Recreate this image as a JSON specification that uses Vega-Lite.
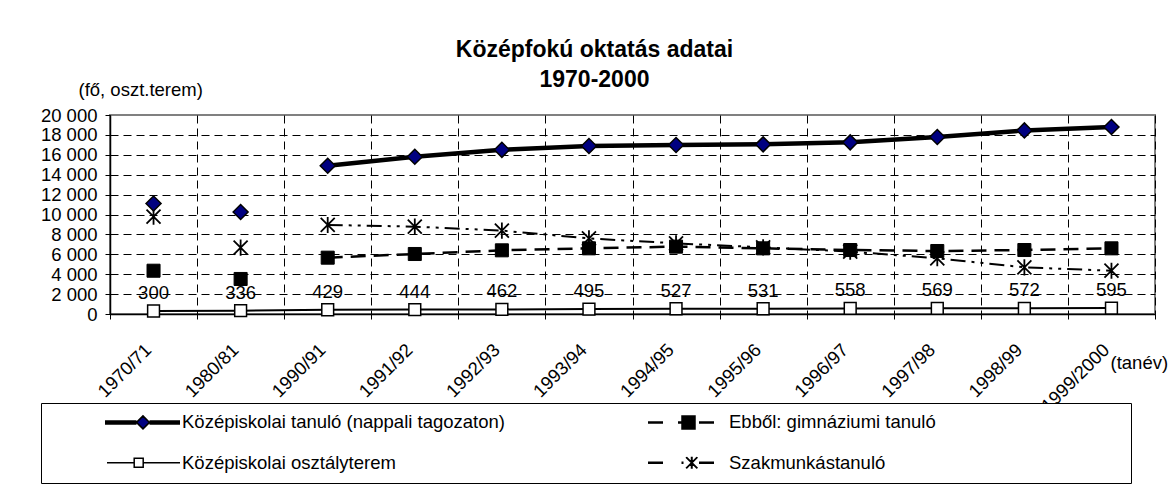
{
  "$schema": "https://vega.github.io/schema/vega-lite/v6.json",
  "width": 1045,
  "height": 199,
  "autosize": "none",
  "padding": {"left": 110, "top": 115, "right": 15, "bottom": 178},
  "background": "white",
  "title": {
    "text": ["Középfokú oktatás adatai", "1970-2000"],
    "font": "Liberation Sans",
    "fontSize": 23,
    "fontWeight": "bold",
    "color": "black",
    "anchor": "middle",
    "frame": "group",
    "baseline": "bottom",
    "lineHeight": 30.6,
    "dx": -38,
    "offset": -35
  },
  "data": {
    "values": [
      {"tanev": "1970/71", "sorozat": "Középiskolai tanuló (nappali tagozaton)", "ertek": 11100},
      {"tanev": "1980/81", "sorozat": "Középiskolai tanuló (nappali tagozaton)", "ertek": 10250},
      {"tanev": "1990/91", "sorozat": "Középiskolai tanuló (nappali tagozaton)", "ertek": 14900},
      {"tanev": "1991/92", "sorozat": "Középiskolai tanuló (nappali tagozaton)", "ertek": 15800},
      {"tanev": "1992/93", "sorozat": "Középiskolai tanuló (nappali tagozaton)", "ertek": 16500},
      {"tanev": "1993/94", "sorozat": "Középiskolai tanuló (nappali tagozaton)", "ertek": 16880},
      {"tanev": "1994/95", "sorozat": "Középiskolai tanuló (nappali tagozaton)", "ertek": 16980},
      {"tanev": "1995/96", "sorozat": "Középiskolai tanuló (nappali tagozaton)", "ertek": 17050},
      {"tanev": "1996/97", "sorozat": "Középiskolai tanuló (nappali tagozaton)", "ertek": 17250},
      {"tanev": "1997/98", "sorozat": "Középiskolai tanuló (nappali tagozaton)", "ertek": 17790},
      {"tanev": "1998/99", "sorozat": "Középiskolai tanuló (nappali tagozaton)", "ertek": 18450},
      {"tanev": "1999/2000", "sorozat": "Középiskolai tanuló (nappali tagozaton)", "ertek": 18790},
      {"tanev": "1970/71", "sorozat": "Ebből: gimnáziumi tanuló", "ertek": 4350},
      {"tanev": "1980/81", "sorozat": "Ebből: gimnáziumi tanuló", "ertek": 3520},
      {"tanev": "1990/91", "sorozat": "Ebből: gimnáziumi tanuló", "ertek": 5660},
      {"tanev": "1991/92", "sorozat": "Ebből: gimnáziumi tanuló", "ertek": 6030},
      {"tanev": "1992/93", "sorozat": "Ebből: gimnáziumi tanuló", "ertek": 6400},
      {"tanev": "1993/94", "sorozat": "Ebből: gimnáziumi tanuló", "ertek": 6600},
      {"tanev": "1994/95", "sorozat": "Ebből: gimnáziumi tanuló", "ertek": 6770},
      {"tanev": "1995/96", "sorozat": "Ebből: gimnáziumi tanuló", "ertek": 6600},
      {"tanev": "1996/97", "sorozat": "Ebből: gimnáziumi tanuló", "ertek": 6430},
      {"tanev": "1997/98", "sorozat": "Ebből: gimnáziumi tanuló", "ertek": 6330},
      {"tanev": "1998/99", "sorozat": "Ebből: gimnáziumi tanuló", "ertek": 6430},
      {"tanev": "1999/2000", "sorozat": "Ebből: gimnáziumi tanuló", "ertek": 6600},
      {"tanev": "1970/71", "sorozat": "Középiskolai osztályterem", "ertek": 300},
      {"tanev": "1980/81", "sorozat": "Középiskolai osztályterem", "ertek": 336},
      {"tanev": "1990/91", "sorozat": "Középiskolai osztályterem", "ertek": 429},
      {"tanev": "1991/92", "sorozat": "Középiskolai osztályterem", "ertek": 444},
      {"tanev": "1992/93", "sorozat": "Középiskolai osztályterem", "ertek": 462},
      {"tanev": "1993/94", "sorozat": "Középiskolai osztályterem", "ertek": 495},
      {"tanev": "1994/95", "sorozat": "Középiskolai osztályterem", "ertek": 527},
      {"tanev": "1995/96", "sorozat": "Középiskolai osztályterem", "ertek": 531},
      {"tanev": "1996/97", "sorozat": "Középiskolai osztályterem", "ertek": 558},
      {"tanev": "1997/98", "sorozat": "Középiskolai osztályterem", "ertek": 569},
      {"tanev": "1998/99", "sorozat": "Középiskolai osztályterem", "ertek": 572},
      {"tanev": "1999/2000", "sorozat": "Középiskolai osztályterem", "ertek": 595},
      {"tanev": "1970/71", "sorozat": "Szakmunkástanuló", "ertek": 9780},
      {"tanev": "1980/81", "sorozat": "Szakmunkástanuló", "ertek": 6670},
      {"tanev": "1990/91", "sorozat": "Szakmunkástanuló", "ertek": 8950},
      {"tanev": "1991/92", "sorozat": "Szakmunkástanuló", "ertek": 8780},
      {"tanev": "1992/93", "sorozat": "Szakmunkástanuló", "ertek": 8380},
      {"tanev": "1993/94", "sorozat": "Szakmunkástanuló", "ertek": 7600},
      {"tanev": "1994/95", "sorozat": "Szakmunkástanuló", "ertek": 7100},
      {"tanev": "1995/96", "sorozat": "Szakmunkástanuló", "ertek": 6700},
      {"tanev": "1996/97", "sorozat": "Szakmunkástanuló", "ertek": 6270},
      {"tanev": "1997/98", "sorozat": "Szakmunkástanuló", "ertek": 5600},
      {"tanev": "1998/99", "sorozat": "Szakmunkástanuló", "ertek": 4690},
      {"tanev": "1999/2000", "sorozat": "Szakmunkástanuló", "ertek": 4350}
    ]
  },
  "encoding": {
    "x": {
      "field": "tanev",
      "type": "nominal",
      "sort": null,
      "scale": {
        "type": "band",
        "domain": ["1970/71", "1980/81", "1990/91", "1991/92", "1992/93", "1993/94", "1994/95", "1995/96", "1996/97", "1997/98", "1998/99", "1999/2000"],
        "paddingInner": 0,
        "paddingOuter": 0
      },
      "axis": {
        "title": "(tanév)",
        "titleX": 1000,
        "titleY": 48,
        "titleAlign": "left",
        "titleBaseline": "middle",
        "titleAngle": 0,
        "labelAngle": -45,
        "labelAlign": "right",
        "labelBaseline": "top",
        "labelPadding": 21,
        "labelOffset": -12,
        "tickBand": "extent",
        "grid": true,
        "tickSize": 5
      }
    },
    "y": {
      "field": "ertek",
      "type": "quantitative",
      "scale": {"domain": [0, 20000], "nice": false},
      "axis": {
        "title": "(fő, oszt.terem)",
        "titleX": -32,
        "titleY": -25.5,
        "titleAngle": 0,
        "titleAlign": "left",
        "titleBaseline": "middle",
        "values": [0, 2000, 4000, 6000, 8000, 10000, 12000, 14000, 16000, 18000, 20000],
        "labelExpr": "replace(format(datum.value, ','), ',', ' ')",
        "labelPadding": 8,
        "labelOverlap": false,
        "labelFlush": false,
        "tickSize": 5,
        "grid": true,
        "gridOpacity": {"condition": {"test": "datum.value >= 20000", "value": 0}, "value": 1}
      }
    }
  },
  "layer": [
    {
      "transform": [{"filter": {"field": "sorozat", "equal": "Középiskolai osztályterem"}}],
      "mark": {"type": "line", "color": "black", "strokeWidth": 2}
    },
    {
      "transform": [{"filter": {"and": [{"field": "sorozat", "equal": "Szakmunkástanuló"}, {"not": {"field": "tanev", "oneOf": ["1970/71", "1980/81"]}}]}}],
      "mark": {"type": "line", "color": "black", "strokeWidth": 2, "strokeDash": [15, 6, 3, 6, 3, 6]}
    },
    {
      "transform": [{"filter": {"and": [{"field": "sorozat", "equal": "Ebből: gimnáziumi tanuló"}, {"not": {"field": "tanev", "oneOf": ["1970/71", "1980/81"]}}]}}],
      "mark": {"type": "line", "color": "black", "strokeWidth": 2.5, "strokeDash": [15, 8]}
    },
    {
      "transform": [{"filter": {"and": [{"field": "sorozat", "equal": "Középiskolai tanuló (nappali tagozaton)"}, {"not": {"field": "tanev", "oneOf": ["1970/71", "1980/81"]}}]}}],
      "mark": {"type": "line", "color": "black", "strokeWidth": 4.5}
    },
    {
      "transform": [{"filter": {"field": "sorozat", "equal": "Középiskolai osztályterem"}}],
      "mark": {"type": "point", "shape": "square", "filled": true, "fill": "white", "stroke": "black", "strokeWidth": 1.5, "size": 140, "opacity": 1}
    },
    {
      "transform": [{"filter": {"field": "sorozat", "equal": "Szakmunkástanuló"}}],
      "mark": {"type": "point", "shape": "M-1,-1L1,1M-1,1L1,-1M0,-1.15V1.15", "filled": false, "stroke": "black", "strokeWidth": 1.8, "size": 196, "opacity": 1}
    },
    {
      "transform": [{"filter": {"field": "sorozat", "equal": "Ebből: gimnáziumi tanuló"}}],
      "mark": {"type": "point", "shape": "square", "filled": true, "fill": "black", "stroke": "black", "strokeWidth": 1, "size": 170, "opacity": 1}
    },
    {
      "transform": [{"filter": {"field": "sorozat", "equal": "Középiskolai tanuló (nappali tagozaton)"}}],
      "mark": {"type": "point", "shape": "diamond", "filled": true, "fill": "#000080", "stroke": "black", "strokeWidth": 1.5, "size": 225, "opacity": 1}
    },
    {
      "transform": [{"filter": {"field": "sorozat", "equal": "Középiskolai osztályterem"}}],
      "mark": {"type": "text", "dy": -12, "baseline": "alphabetic", "align": "center", "fontSize": 18.5, "color": "black"},
      "encoding": {"text": {"field": "ertek", "type": "quantitative", "format": "d"}}
    },
    {
      "transform": [{"filter": "false"}],
      "mark": {"type": "point", "filled": true, "strokeWidth": 1.5, "opacity": 1},
      "encoding": {
        "shape": {
          "field": "sorozat",
          "type": "nominal",
          "scale": {
            "domain": ["Középiskolai tanuló (nappali tagozaton)", "Középiskolai osztályterem", "Ebből: gimnáziumi tanuló", "Szakmunkástanuló"],
            "range": [
              "M-1.85,0M102.15,0M8.95,-0.3H15.25M8.95,-0.1H15.25M8.95,0.1H15.25M8.95,0.3H15.25M17.85,-0.3H23.95M17.85,-0.1H23.95M17.85,0.1H23.95M17.85,0.3H23.95M15.25,0L16.55,-1.3L17.85,0L16.55,1.3Z",
              "M-1.85,0M102.15,0M9.35,0H14.79M16.59,0H23.95M14.79,-0.9H16.59V0.9H14.79Z",
              "M-1.85,0M102.15,0M8.15,-0.1H11.15M8.15,0.1H11.15M14.15,-0.1H14.95M14.15,0.1H14.95M18.35,-0.1H21.35M18.35,0.1H21.35M14.95,-1.3H17.55V1.3H14.95Z",
              "M-1.85,0M102.15,0M8.15,-0.1H11.15M8.15,0.1H11.15M14.85,-0.1H15.25M14.85,0.1H15.25M18.35,-0.1H21.35M18.35,0.1H21.35M15.75,-1.1L17.95,1.1M15.75,1.1L17.95,-1.1M16.85,-1.2V1.2M15.85,-1.1L18.05,1.1M15.85,1.1L18.05,-1.1M16.95,-1.2V1.2"
            ]
          },
          "legend": {
            "title": null,
            "orient": "none",
            "legendX": -69,
            "legendY": 288,
            "columns": 2,
            "columnPadding": 21,
            "rowPadding": 21.5,
            "padding": 10,
            "gridAlign": "each",
            "strokeColor": "black",
            "fillColor": "white",
            "symbolSize": 100,
            "symbolStrokeWidth": 1.5,
            "symbolOpacity": 1,
            "symbolOffset": 0,
            "labelOffset": 112.5,
            "labelLimit": 600,
            "labelFontSize": 18.5,
            "labelColor": "black",
            "labelBaseline": "middle"
          }
        },
        "fill": {
          "field": "sorozat",
          "type": "nominal",
          "scale": {
            "domain": ["Középiskolai tanuló (nappali tagozaton)", "Középiskolai osztályterem", "Ebből: gimnáziumi tanuló", "Szakmunkástanuló"],
            "range": ["#000080", "white", "black", "transparent"]
          }
        },
        "stroke": {
          "field": "sorozat",
          "type": "nominal",
          "scale": {
            "domain": ["Középiskolai tanuló (nappali tagozaton)", "Középiskolai osztályterem", "Ebből: gimnáziumi tanuló", "Szakmunkástanuló"],
            "range": ["black", "black", "black", "black"]
          }
        }
      }
    }
  ],
  "config": {
    "font": "Liberation Sans",
    "view": {"stroke": "#808080", "strokeWidth": 2},
    "axis": {
      "labelFont": "Liberation Sans",
      "labelFontSize": 18.5,
      "labelColor": "black",
      "titleFont": "Liberation Sans",
      "titleFontSize": 18.5,
      "titleFontWeight": "normal",
      "titleColor": "black",
      "domainColor": "black",
      "domainWidth": 1.5,
      "tickColor": "black",
      "tickWidth": 1,
      "gridColor": "black",
      "gridWidth": 1,
      "gridDash": [8, 5],
      "gridOpacity": 1
    },
    "legend": {
      "labelFont": "Liberation Sans"
    },
    "text": {"font": "Liberation Sans"}
  }
}
